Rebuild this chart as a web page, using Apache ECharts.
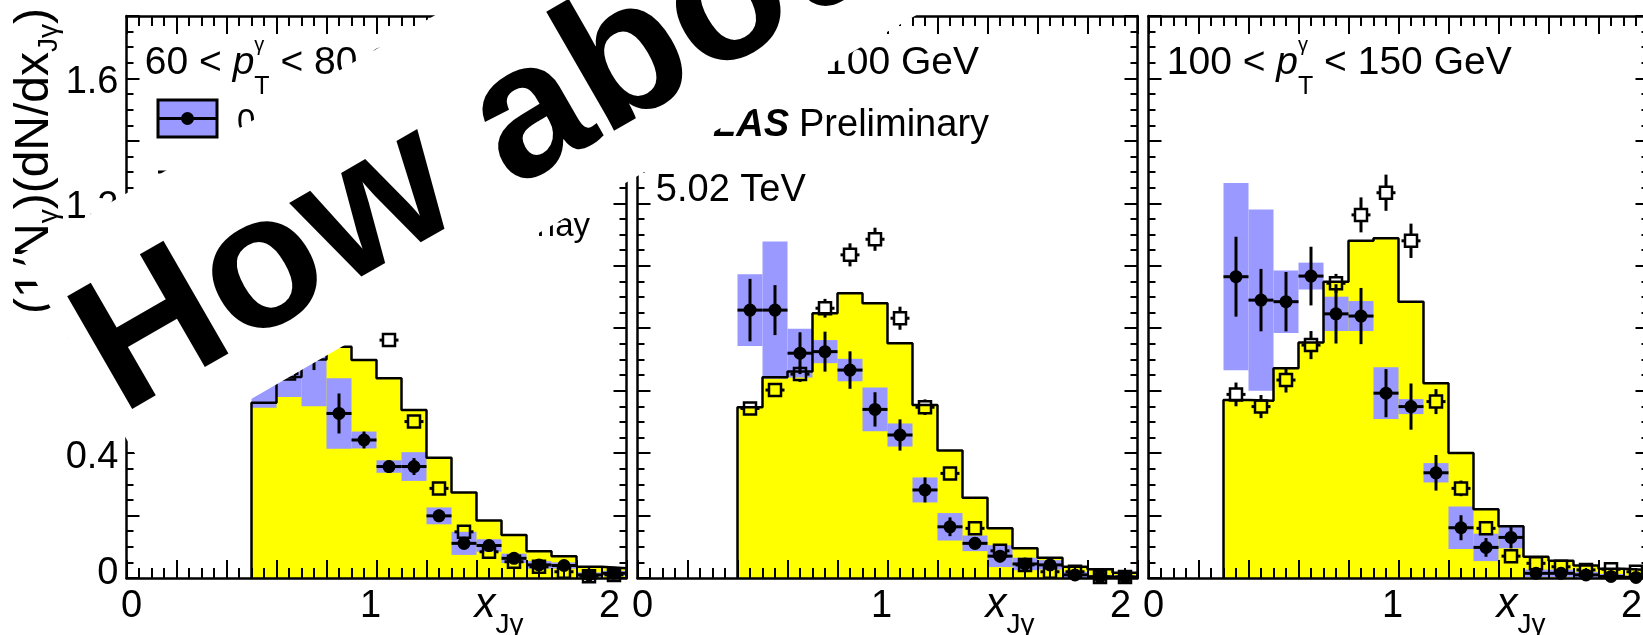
<!DOCTYPE html>
<html>
<head>
<meta charset="utf-8">
<script src="https://cdn.jsdelivr.net/npm/echarts@6/dist/echarts.min.js"></script>
<style>
  html, body { margin: 0; padding: 0; background: #fff; }
  #chart { width: 1643px; height: 635px; }
</style>
</head>
<body>
<div id="chart"></div>
<script>
// ---- x_Jgamma distributions in three photon-pT intervals ----

// 60 < pT < 80 GeV
const x60 = [0.55, 0.65, 0.75, 0.85, 0.95, 1.05, 1.15, 1.25, 1.35, 1.45, 1.55, 1.65, 1.75, 1.85, 1.95];
const mc60 = [0.561, 0.644, 0.700, 0.741, 0.698, 0.640, 0.538, 0.385, 0.274, 0.184, 0.138, 0.086, 0.070, 0.036, 0.031];
const pbpb60 = [0.68, 0.70, 0.72, 0.527, 0.442, 0.357, 0.357, 0.199, 0.111, 0.104, 0.063, 0.042, 0.040, 0.010, 0.015];
const pbpbStat60 = [0.07, 0.06, 0.054, 0.064, 0.027, 0.02, 0.027, 0.02, 0.02, 0.018, 0.015, 0.012, 0.012, 0.008, 0.008];
const pbpbSyst60 = [0.135, 0.12, 0.17, 0.113, 0.027, 0.02, 0.046, 0.027, 0.037, 0.02, 0.015, 0.012, 0.01, 0.008, 0.008];
const pp60 = [0.64, 0.655, 0.80, 0.92, 0.95, 0.762, 0.501, 0.287, 0.148, 0.084, 0.052, 0.036, 0.020, 0.006, 0.010];
const ppStat60 = [0.02, 0.02, 0.02, 0.025, 0.025, 0.022, 0.02, 0.015, 0.012, 0.01, 0.008, 0.006, 0.005, 0.004, 0.004];

// 80 < pT < 100 GeV
const x80 = [0.45, 0.55, 0.65, 0.75, 0.85, 0.95, 1.05, 1.15, 1.25, 1.35, 1.45, 1.55, 1.65, 1.75, 1.85, 1.95];
const mc80 = [0.547, 0.643, 0.661, 0.848, 0.912, 0.880, 0.752, 0.554, 0.408, 0.257, 0.159, 0.095, 0.065, 0.036, 0.028, 0.017];
const pbpb80 = [0.858, 0.858, 0.72, 0.725, 0.666, 0.540, 0.458, 0.282, 0.164, 0.111, 0.07, 0.045, 0.042, 0.01, 0.004, 0.003];
const pbpbStat80 = [0.10, 0.08, 0.067, 0.064, 0.06, 0.055, 0.05, 0.04, 0.03, 0.02, 0.02, 0.015, 0.015, 0.01, 0.008, 0.008];
const pbpbSyst80 = [0.115, 0.22, 0.078, 0.037, 0.036, 0.07, 0.037, 0.04, 0.044, 0.025, 0.035, 0.02, 0.015, 0.01, 0.006, 0.006];
const pp80 = [0.543, 0.602, 0.653, 0.864, 1.035, 1.085, 0.832, 0.547, 0.335, 0.159, 0.087, 0.042, 0.020, 0.020, 0.003, 0.003];
const ppStat80 = [0.02, 0.02, 0.025, 0.03, 0.037, 0.037, 0.037, 0.025, 0.02, 0.015, 0.012, 0.01, 0.008, 0.008, 0.005, 0.005];

// 100 < pT < 150 GeV
const x100 = [0.35, 0.45, 0.55, 0.65, 0.75, 0.85, 0.95, 1.05, 1.15, 1.25, 1.35, 1.45, 1.55, 1.65, 1.75, 1.85, 1.95];
const mc100 = [0.570, 0.568, 0.672, 0.754, 0.949, 1.080, 1.088, 0.885, 0.624, 0.400, 0.220, 0.166, 0.068, 0.055, 0.040, 0.030, 0.025];
const pbpb100 = [0.965, 0.890, 0.885, 0.967, 0.846, 0.839, 0.592, 0.549, 0.337, 0.161, 0.098, 0.130, 0.015, 0.015, 0.010, 0.005, 0.002];
const pbpbStat100 = [0.128, 0.10, 0.095, 0.094, 0.095, 0.09, 0.077, 0.074, 0.057, 0.04, 0.03, 0.035, 0.01, 0.01, 0.008, 0.006, 0.005];
const pbpbSyst100 = [0.30, 0.29, 0.10, 0.043, 0.055, 0.048, 0.083, 0.024, 0.031, 0.068, 0.044, 0.035, 0.012, 0.012, 0.01, 0.008, 0.006];
const pp100 = [0.588, 0.549, 0.634, 0.746, 0.944, 1.163, 1.234, 1.080, 0.565, 0.287, 0.159, 0.070, 0.047, 0.036, 0.026, 0.028, 0.020];
const ppStat100 = [0.038, 0.037, 0.04, 0.045, 0.03, 0.056, 0.058, 0.055, 0.04, 0.025, 0.02, 0.015, 0.01, 0.01, 0.01, 0.01, 0.01];

// pT interval edges for the panel headers (GeV)
const ptLow = ['60', '80', '100'];
const ptHigh = ['80', '100', '150'];

// axis tick labels
const xTickLabels = ['0', '1', '2'];
const yTickLabels = ['0', '0.4', '0.8', '1.2', '1.6'];

// legend entries
const legendPbPb = '0\u201310% Pb+Pb';
const legendPP = 'pp';
const legendMC = 'Pythia8 + Pb+Pb Overlay';

// ---------------------------------------------------------------
const FONT = 'Liberation Sans';
const MID = 0.276;             // canvas "middle" baseline above the alphabetic one, in em
const PURPLE = '#9999ff';
const YELLOW = '#ffff00';

const panels = [
  { x: x60, mc: mc60, pb: pbpb60, pbStat: pbpbStat60, pbSyst: pbpbSyst60, pp: pp60, ppStat: ppStat60 },
  { x: x80, mc: mc80, pb: pbpb80, pbStat: pbpbStat80, pbSyst: pbpbSyst80, pp: pp80, ppStat: ppStat80 },
  { x: x100, mc: mc100, pb: pbpb100, pbStat: pbpbStat100, pbSyst: pbpbSyst100, pp: pp100, ppStat: ppStat100 }
];

const gridLeft = [126.5, 637.5, 1148.5];
const gridTop = 16, gridW = 500, gridH = 562;

const mctx = document.createElement('canvas').getContext('2d');
function measure(p) {
  mctx.font = (p.s || 'normal') + ' ' + (p.w || 'normal') + ' ' + p.size + 'px "' + FONT + '"';
  return mctx.measureText(p.t).width;
}
function textEl(x, base, p, z, align) {
  return {
    type: 'text', z: z || 50, silent: true,
    style: {
      x: x, y: base - MID * p.size, text: p.t,
      fontSize: p.size, fontFamily: FONT, fontWeight: p.w || 'normal', fontStyle: p.s || 'normal',
      fill: '#000', align: align || 'left', textAlign: align || 'left',
      verticalAlign: 'middle', textVerticalAlign: 'middle'
    }
  };
}
// lay a sequence of text pieces along a baseline; a "stack" piece puts sub/superscripts at one x
function runs(x0, base, parts, z) {
  const out = [];
  let x = x0;
  parts.forEach(p => {
    if (p.stack) {
      let w = 0;
      p.stack.forEach(q => { out.push(textEl(x, base + (q.dy || 0), q, z)); w = Math.max(w, measure(q)); });
      x += w;
    } else {
      out.push(textEl(x, base + (p.dy || 0), p, z));
      x += measure(p);
    }
  });
  return out;
}

// ---- axes ----
const xAxes = [], yAxes = [], grids = [];
function isInt(v) { return Math.abs(v - Math.round(v)) < 1e-6; }
const tickRich = {};
const xPad = [[0, 0, 0, 10], [0, 12, 0, 0], [0, 34, 0, 0]];
xPad.forEach((p, i) => {
  tickRich['t' + i] = { fontSize: 38, fontFamily: FONT, color: '#000', lineHeight: 38, padding: p };
});
const yRich = {
  z: { fontSize: 38, fontFamily: FONT, color: '#000', lineHeight: 38, padding: [0, 0, 8, 0] },
  n: { fontSize: 38, fontFamily: FONT, color: '#000', lineHeight: 38, padding: [8, 0, 0, 0] }
};

for (let g = 0; g < 3; g++) {
  grids.push({ left: gridLeft[g], top: gridTop, width: gridW, height: gridH, containLabel: false, outerBoundsMode: 'none' });
  ['bottom', 'top'].forEach(pos => {
    xAxes.push({
      type: 'value', gridIndex: g, position: pos, min: 0, max: 2, interval: 0.2, z: 4,
      axisLine: { onZero: false, lineStyle: { color: '#000', width: 2.5 } },
      axisTick: { inside: true, length: 18, lineStyle: { color: '#000', width: 2 } },
      minorTick: { show: true, splitNumber: 4, length: 10, lineStyle: { color: '#000', width: 2 } },
      splitLine: { show: false }, minorSplitLine: { show: false },
      axisLabel: pos === 'bottom' ? {
        show: true, margin: 10, showMinLabel: true, showMaxLabel: true, hideOverlap: false,
        formatter: v => isInt(v) ? '{t' + Math.round(v) + '|' + xTickLabels[Math.round(v)] + '}' : '',
        rich: tickRich
      } : { show: false }
    });
  });
  ['left', 'right'].forEach(pos => {
    yAxes.push({
      type: 'value', gridIndex: g, position: pos, min: 0, max: 1.8, interval: 0.2, z: 4,
      axisLine: { onZero: false, lineStyle: { color: '#000', width: 2.5 } },
      axisTick: { inside: true, length: 13, lineStyle: { color: '#000', width: 2 } },
      minorTick: { show: true, splitNumber: 4, length: 7, lineStyle: { color: '#000', width: 2 } },
      splitLine: { show: false }, minorSplitLine: { show: false },
      axisLabel: (pos === 'left' && g === 0) ? {
        show: true, margin: 8, showMinLabel: true, showMaxLabel: true,
        formatter: v => {
          const k = v / 0.4;
          if (!isInt(k) || v > 1.7) return '';
          const i = Math.round(k);
          return i === 0 ? '{z|' + yTickLabels[0] + '}' : '{n|' + yTickLabels[i] + '}';
        },
        rich: yRich
      } : { show: false }
    });
  });
}

// ---- series ----
const series = [];
panels.forEach((P, g) => {
  const xi = 2 * g, yi = 2 * g;
  const hw = (P.x[1] - P.x[0]) / 2;
  // step outline of the MC histogram
  const steps = [[P.x[0] - hw, 0]];
  P.x.forEach((c, i) => steps.push([c - hw, P.mc[i]]));
  steps.push([P.x[P.x.length - 1] + hw, 0]);

  series.push({
    type: 'line', xAxisIndex: xi, yAxisIndex: yi, step: 'end', symbol: 'none', z: 1, silent: true,
    data: steps, lineStyle: { opacity: 0, width: 0 }, areaStyle: { color: YELLOW, opacity: 1 }
  });
  // systematic boxes of Pb+Pb
  series.push({
    type: 'custom', xAxisIndex: xi, yAxisIndex: yi, z: 2, clip: true, silent: true,
    data: P.x.map((c, i) => [c, P.pb[i], P.pbSyst[i], hw]),
    encode: { x: 0, y: 1 },
    renderItem: (params, api) => {
      const x = api.value(0), v = api.value(1), s = api.value(2), h = api.value(3);
      const a = api.coord([x - h, v + s]), b = api.coord([x + h, v - s]);
      return { type: 'rect', shape: { x: a[0], y: a[1], width: b[0] - a[0], height: b[1] - a[1] }, style: { fill: PURPLE } };
    }
  });
  series.push({
    type: 'line', xAxisIndex: xi, yAxisIndex: yi, step: 'end', symbol: 'none', z: 3, silent: true,
    data: steps, lineStyle: { color: '#000', width: 2.5 }
  });
  // pp: open squares
  series.push({
    type: 'custom', xAxisIndex: xi, yAxisIndex: yi, z: 5, silent: true,
    data: P.x.map((c, i) => [c, P.pp[i], P.ppStat[i]]),
    encode: { x: 0, y: 1 },
    renderItem: (params, api) => {
      const x = api.value(0), v = api.value(1), e = api.value(2);
      const c = api.coord([x, v]);
      const l = api.coord([x - 0.038, v])[0], r = api.coord([x + 0.038, v])[0];
      const t = api.coord([x, v + e])[1], b = api.coord([x, v - e])[1];
      const s = 6, st = { stroke: '#000', lineWidth: 3 };
      const ch = [];
      if (l < c[0] - s) ch.push({ type: 'line', shape: { x1: l, y1: c[1], x2: c[0] - s, y2: c[1] }, style: st });
      if (r > c[0] + s) ch.push({ type: 'line', shape: { x1: c[0] + s, y1: c[1], x2: r, y2: c[1] }, style: st });
      if (t < c[1] - s) ch.push({ type: 'line', shape: { x1: c[0], y1: t, x2: c[0], y2: c[1] - s }, style: st });
      if (b > c[1] + s) ch.push({ type: 'line', shape: { x1: c[0], y1: c[1] + s, x2: c[0], y2: b }, style: st });
      ch.push({ type: 'rect', shape: { x: c[0] - s, y: c[1] - s, width: 2 * s, height: 2 * s }, style: { fill: 'none', stroke: '#000', lineWidth: 2.5 } });
      return { type: 'group', children: ch };
    }
  });
  // Pb+Pb: filled circles with statistical bars
  series.push({
    type: 'custom', xAxisIndex: xi, yAxisIndex: yi, z: 6, silent: true,
    data: P.x.map((c, i) => [c, P.pb[i], P.pbStat[i], hw]),
    encode: { x: 0, y: 1 },
    renderItem: (params, api) => {
      const x = api.value(0), v = api.value(1), e = api.value(2), h = api.value(3);
      const c = api.coord([x, v]);
      const l = api.coord([x - h, v])[0], r = api.coord([x + h, v])[0];
      const t = api.coord([x, v + e])[1], b = api.coord([x, v - e])[1];
      const st = { stroke: '#000', lineWidth: 3 };
      return {
        type: 'group', children: [
          { type: 'line', shape: { x1: l, y1: c[1], x2: r, y2: c[1] }, style: st },
          { type: 'line', shape: { x1: c[0], y1: t, x2: c[0], y2: b }, style: st },
          { type: 'circle', shape: { cx: c[0], cy: c[1], r: 6.5 }, style: { fill: '#000' } }
        ]
      };
    }
  });
});

// ---- annotations ----
const graphics = [];
// panel headers
for (let g = 0; g < 3; g++) {
  runs(gridLeft[g] + 18.3, 74, [
    { t: ptLow[g] + ' < ', size: 39 },
    { t: 'p', size: 39, s: 'italic' },
    { stack: [{ t: '\u03b3', size: 20, dy: -22.5 }, { t: 'T', size: 25, dy: 20 }] },
    { t: ' < ' + ptHigh[g] + ' GeV', size: 39 }
  ]).forEach(e => graphics.push(e));
}
graphics.push(textEl(789, 136, { t: 'ATLAS', size: 38, w: 'bold', s: 'italic' }, 50, 'right'));
graphics.push(textEl(799, 136, { t: 'Preliminary', size: 38 }));
graphics.push(textEl(655.8, 201, { t: '5.02 TeV', size: 38 }));

// legend
graphics.push({ type: 'rect', z: 50, silent: true, shape: { x: 158, y: 100, width: 59, height: 37 }, style: { fill: PURPLE, stroke: '#000', lineWidth: 3 } });
graphics.push({ type: 'line', z: 51, silent: true, shape: { x1: 158, y1: 118.5, x2: 217, y2: 118.5 }, style: { stroke: '#000', lineWidth: 3 } });
graphics.push({ type: 'circle', z: 51, silent: true, shape: { cx: 187.5, cy: 118.5, r: 6.5 }, style: { fill: '#000' } });
graphics.push(textEl(237, 131.6, { t: legendPbPb, size: 33 }));
graphics.push({ type: 'line', z: 51, silent: true, shape: { x1: 158, y1: 172, x2: 181.5, y2: 172 }, style: { stroke: '#000', lineWidth: 3 } });
graphics.push({ type: 'line', z: 51, silent: true, shape: { x1: 193.5, y1: 172, x2: 217, y2: 172 }, style: { stroke: '#000', lineWidth: 3 } });
graphics.push({ type: 'rect', z: 51, silent: true, shape: { x: 181.5, y: 166, width: 12, height: 12 }, style: { fill: 'none', stroke: '#000', lineWidth: 2.5 } });
graphics.push(textEl(237, 184, { t: legendPP, size: 33 }));
graphics.push({ type: 'rect', z: 50, silent: true, shape: { x: 158, y: 208, width: 59, height: 37 }, style: { fill: YELLOW, stroke: '#000', lineWidth: 3 } });
graphics.push(textEl(590, 236, { t: legendMC, size: 33 }, 50, 'right'));

// y-axis title, reading upwards
graphics.push({
  type: 'group', x: 48, y: 314, rotation: Math.PI / 2, silent: true,
  children: runs(0, 0, [
    { t: '(1/N', size: 48 },
    { t: '\u03b3', size: 28, dy: 9 },
    { t: ')(dN/dx', size: 48 },
    { t: 'J\u03b3', size: 28, dy: 9 },
    { t: ')', size: 48 }
  ])
});
// x-axis titles
for (let g = 0; g < 3; g++) {
  runs(gridLeft[g] + 348, 617, [
    { t: 'x', size: 42, s: 'italic' },
    { t: 'J\u03b3', size: 28, dy: 16 }
  ]).forEach(e => graphics.push(e));
}

// overlaid caption on a white band
graphics.push({
  type: 'group', x: 121.3, y: 415.2, rotation: 30 * Math.PI / 180, z: 100, silent: true,
  children: [
    { type: 'rect', z: 100, shape: { x: -7.5, y: -189.5, width: 1400, height: 240.5 }, style: { fill: '#fff' } },
    textEl(0, 0, { t: 'How about', size: 189, w: 'bold' }, 101)
  ]
});

const chart = echarts.init(document.getElementById('chart'), null, { renderer: 'canvas' });
chart.setOption({
  animation: false,
  backgroundColor: '#fff',
  grid: grids,
  xAxis: xAxes,
  yAxis: yAxes,
  series: series,
  graphic: { elements: graphics }
});
</script>
</body>
</html>
